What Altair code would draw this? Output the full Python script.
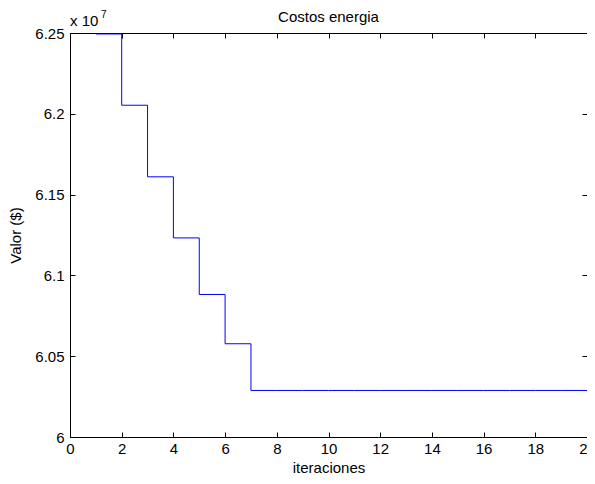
import altair as alt
import pandas as pd

# Data (Valor in $)
iteraciones = list(range(1, 21))
valor = [62494000, 62053000, 61610000, 61232000, 60882000, 60577000, 60288000] + [60288000] * 13

x_ticks = list(range(0, 21, 2))
y_ticks = [60000000, 60500000, 61000000, 61500000, 62000000, 62500000]

titulo = "Costos energia"
exponente_base = "x 10"
exponente = "7"

df = pd.DataFrame({"iteraciones": iteraciones, "valor": valor})

FONT = "Liberation Sans"
FS = 15
TICK = 5
W, H = 517, 404

xscale = alt.Scale(domain=[0, 20], nice=False, zero=False)
yscale = alt.Scale(domain=[60000000, 62500000], nice=False, zero=False)

xaxis = alt.Axis(values=x_ticks, domain=False, grid=False, tickSize=TICK, offset=-TICK,
                 labelPadding=4, title="iteraciones", titleY=40, titleBaseline="alphabetic",
                 labelFlush=False, labelOverlap=False, orient="bottom")
yaxis = alt.Axis(values=y_ticks, domain=False, grid=False, tickSize=TICK, offset=-TICK,
                 labelPadding=6, title="Valor ($)", titlePadding=11,
                 labelExpr="format(datum.value / 1e7, '.2~f')", labelFlush=False,
                 labelOverlap=False, orient="left")
xaxis_top = alt.Axis(values=x_ticks, domain=False, grid=False, tickSize=TICK, offset=-TICK,
                     labels=False, title=None, orient="top")
yaxis_right = alt.Axis(values=y_ticks, domain=False, grid=False, tickSize=TICK, offset=-TICK,
                       labels=False, title=None, orient="right")

line = alt.Chart(df).mark_line(interpolate="step-after", color="#0000ff", strokeWidth=1).encode(
    x=alt.X("iteraciones:Q", scale=xscale, axis=xaxis),
    y=alt.Y("valor:Q", scale=yscale, axis=yaxis),
)

frame_axes = alt.Chart(df).mark_point(opacity=0).encode(
    x=alt.X("iteraciones:Q", scale=xscale, axis=xaxis_top),
    y=alt.Y("valor:Q", scale=yscale, axis=yaxis_right),
)

title_txt = alt.Chart(pd.DataFrame({"t": [titulo]})).mark_text(
    align="center", baseline="alphabetic", font=FONT, fontSize=FS, color="black"
).encode(text="t:N", x=alt.value(W / 2), y=alt.value(-11))

exp_base = alt.Chart(pd.DataFrame({"t": [exponente_base]})).mark_text(
    align="left", baseline="alphabetic", font=FONT, fontSize=FS, color="black"
).encode(text="t:N", x=alt.value(0), y=alt.value(-7))

exp_sup = alt.Chart(pd.DataFrame({"t": [exponente]})).mark_text(
    align="left", baseline="alphabetic", font=FONT, fontSize=10, color="black"
).encode(text="t:N", x=alt.value(31), y=alt.value(-15))

chart = alt.layer(line, frame_axes, title_txt, exp_base, exp_sup).resolve_axis(
    x="independent", y="independent"
).properties(
    width=W,
    height=H,
    background="white",
    autosize=alt.AutoSizeParams(type="none"),
    padding={"left": 62, "top": 25, "right": 0, "bottom": 39},
).configure_view(
    stroke="black", strokeWidth=1
).configure_axis(
    labelFont=FONT, labelFontSize=FS, labelColor="black",
    titleFont=FONT, titleFontSize=FS, titleColor="black", titleFontWeight="normal",
    tickColor="black", tickWidth=1,
)

chart.save("out.html", embed_options={"renderer": "svg", "actions": False})
